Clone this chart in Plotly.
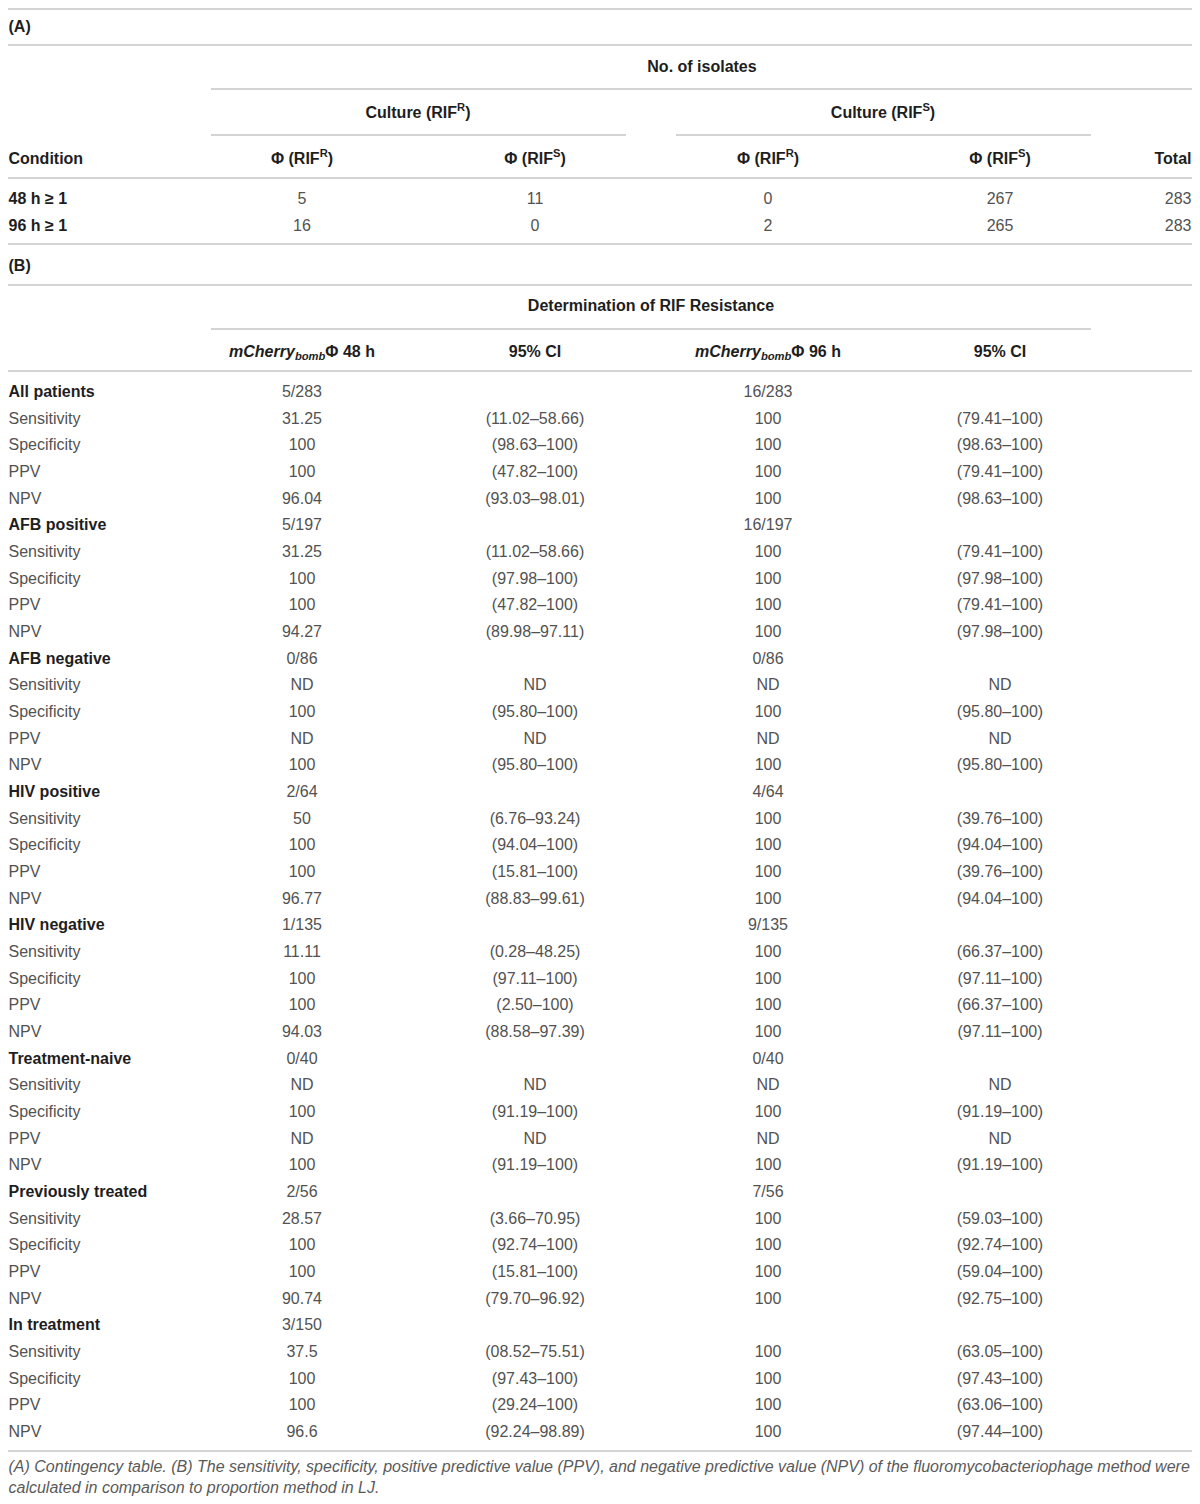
import plotly.graph_objects as go

# ---- (A) contingency table data ----
a_conditions = ["48 h ≥ 1", "96 h ≥ 1"]
a_rr_phi_r = ["5", "16"]
a_rr_phi_s = ["11", "0"]
a_rs_phi_r = ["0", "2"]
a_rs_phi_s = ["267", "265"]
a_total = ["283", "283"]

# ---- (B) diagnostic performance data ----
groups = ["All patients", "AFB positive", "AFB negative", "HIV positive",
          "HIV negative", "Treatment-naive", "Previously treated", "In treatment"]
counts_48 = ["5/283", "5/197", "0/86", "2/64", "1/135", "0/40", "2/56", "3/150"]
counts_96 = ["16/283", "16/197", "0/86", "4/64", "9/135", "0/40", "7/56", ""]
metrics = ["Sensitivity", "Specificity", "PPV", "NPV"]

val_48 = [
    ["31.25", "100", "100", "96.04"],
    ["31.25", "100", "100", "94.27"],
    ["ND", "100", "ND", "100"],
    ["50", "100", "100", "96.77"],
    ["11.11", "100", "100", "94.03"],
    ["ND", "100", "ND", "100"],
    ["28.57", "100", "100", "90.74"],
    ["37.5", "100", "100", "96.6"],
]
ci_48 = [
    ["(11.02–58.66)", "(98.63–100)", "(47.82–100)", "(93.03–98.01)"],
    ["(11.02–58.66)", "(97.98–100)", "(47.82–100)", "(89.98–97.11)"],
    ["ND", "(95.80–100)", "ND", "(95.80–100)"],
    ["(6.76–93.24)", "(94.04–100)", "(15.81–100)", "(88.83–99.61)"],
    ["(0.28–48.25)", "(97.11–100)", "(2.50–100)", "(88.58–97.39)"],
    ["ND", "(91.19–100)", "ND", "(91.19–100)"],
    ["(3.66–70.95)", "(92.74–100)", "(15.81–100)", "(79.70–96.92)"],
    ["(08.52–75.51)", "(97.43–100)", "(29.24–100)", "(92.24–98.89)"],
]
val_96 = [
    ["100", "100", "100", "100"],
    ["100", "100", "100", "100"],
    ["ND", "100", "ND", "100"],
    ["100", "100", "100", "100"],
    ["100", "100", "100", "100"],
    ["ND", "100", "ND", "100"],
    ["100", "100", "100", "100"],
    ["100", "100", "100", "100"],
]
ci_96 = [
    ["(79.41–100)", "(98.63–100)", "(79.41–100)", "(98.63–100)"],
    ["(79.41–100)", "(97.98–100)", "(79.41–100)", "(97.98–100)"],
    ["ND", "(95.80–100)", "ND", "(95.80–100)"],
    ["(39.76–100)", "(94.04–100)", "(39.76–100)", "(94.04–100)"],
    ["(66.37–100)", "(97.11–100)", "(66.37–100)", "(97.11–100)"],
    ["ND", "(91.19–100)", "ND", "(91.19–100)"],
    ["(59.03–100)", "(92.74–100)", "(59.04–100)", "(92.75–100)"],
    ["(63.05–100)", "(97.43–100)", "(63.06–100)", "(97.44–100)"],
]

footnote = ["<i>(A) Contingency table. (B) The sensitivity, specificity, positive predictive value (PPV), "
            "and negative predictive value (NPV) of the fluoromycobacteriophage method were</i>",
            "<i>calculated in comparison to proportion method in LJ.</i>"]

# layout: axes use page pixels; the page body adds an 8 px margin
PAD = 8
W, H = 1200, 1504
LEFT, RIGHT = 8.5, 1191.5
COLS = [302, 535, 768, 1000]
FONT = "Liberation Sans"
SIZE = 16
DARK = "#1e1e1e"
BODY = "#525252"
RULE = "#d4d4d4"
YN = 2  # small vertical nudge for text baselines

fig = go.Figure()


def add_text(xs, ys, texts, pos="middle center", color=BODY, size=SIZE):
    fig.add_trace(go.Scatter(
        x=xs, y=[v + YN for v in ys], text=texts, mode="text", textposition=pos,
        textfont=dict(family=FONT, size=size, color=color),
        hoverinfo="skip", showlegend=False, cliponaxis=False,
    ))


# ---- part A ----
add_text([LEFT], [26], ["<b>(A)</b>"], "middle right", DARK)
add_text([702], [66], ["<b>No. of isolates</b>"], color=DARK)
add_text([418, 883], [112, 112],
         ["<b>Culture (RIF<sup>R</sup>)</b>", "<b>Culture (RIF<sup>S</sup>)</b>"], color=DARK)
add_text([LEFT], [158], ["<b>Condition</b>"], "middle right", DARK)
add_text(COLS, [158] * 4,
         ["<b>Φ (RIF<sup>R</sup>)</b>", "<b>Φ (RIF<sup>S</sup>)</b>",
          "<b>Φ (RIF<sup>R</sup>)</b>", "<b>Φ (RIF<sup>S</sup>)</b>"], color=DARK)
add_text([RIGHT], [158], ["<b>Total</b>"], "middle left", DARK)

a_y = [198 + i * 26.7 for i in range(len(a_conditions))]
add_text([LEFT] * len(a_y), a_y, [f"<b>{c}</b>" for c in a_conditions], "middle right", DARK)
for cx, col in zip(COLS, [a_rr_phi_r, a_rr_phi_s, a_rs_phi_r, a_rs_phi_s]):
    add_text([cx] * len(a_y), a_y, col)
add_text([RIGHT] * len(a_y), a_y, a_total, "middle left")

# ---- part B ----
add_text([LEFT], [265], ["<b>(B)</b>"], "middle right", DARK)
add_text([651], [305], ["<b>Determination of RIF Resistance</b>"], color=DARK)
add_text(COLS, [351] * 4,
         ["<b><i>mCherry<sub>bomb</sub></i>Φ 48 h</b>", "<b>95% CI</b>",
          "<b><i>mCherry<sub>bomb</sub></i>Φ 96 h</b>", "<b>95% CI</b>"], color=DARK)

row_h = 26.67
y0 = 391
g_y, g_lab, m_y, m_lab = [], [], [], []
c48, c96 = [], []
v48, v96, k48, k96 = [], [], [], []
r = 0
for gi, g in enumerate(groups):
    g_y.append(y0 + r * row_h)
    g_lab.append(f"<b>{g}</b>")
    c48.append(counts_48[gi])
    c96.append(counts_96[gi])
    r += 1
    for mi, m in enumerate(metrics):
        m_y.append(y0 + r * row_h)
        m_lab.append(m)
        v48.append(val_48[gi][mi])
        k48.append(ci_48[gi][mi])
        v96.append(val_96[gi][mi])
        k96.append(ci_96[gi][mi])
        r += 1

add_text([LEFT] * len(g_y), g_y, g_lab, "middle right", DARK)
add_text([COLS[0]] * len(g_y), g_y, c48)
add_text([COLS[2]] * len(g_y), g_y, c96)
add_text([LEFT] * len(m_y), m_y, m_lab, "middle right")
add_text([COLS[0]] * len(m_y), m_y, v48)
add_text([COLS[1]] * len(m_y), m_y, k48)
add_text([COLS[2]] * len(m_y), m_y, v96)
add_text([COLS[3]] * len(m_y), m_y, k96)

# footnote
add_text([LEFT, LEFT], [1466, 1487], footnote, "middle right", "#5a5a5a", 16)

# ---- rules ----
FULL0, FULL1 = PAD, W - PAD
rules = [
    (FULL0, FULL1, 9), (FULL0, FULL1, 45), (211, FULL1, 89),
    (211, 626, 135), (676, 1091, 135), (FULL0, FULL1, 178), (FULL0, FULL1, 244),
    (FULL0, FULL1, 285), (211, 1091, 329), (FULL0, FULL1, 371), (FULL0, FULL1, 1451),
]
for x0, x1, yy in rules:
    fig.add_shape(type="line", x0=x0, x1=x1, y0=yy, y1=yy, xref="x", yref="y",
                  line=dict(color=RULE, width=2), layer="below")

fig.update_layout(
    width=W - 2 * PAD, height=H - 2 * PAD,
    margin=dict(l=0, r=0, t=0, b=0),
    plot_bgcolor="white", paper_bgcolor="white",
    xaxis=dict(range=[PAD, W - PAD], visible=False, fixedrange=True),
    yaxis=dict(range=[H - PAD, PAD], visible=False, fixedrange=True),
)

fig.write_html("out.html")
